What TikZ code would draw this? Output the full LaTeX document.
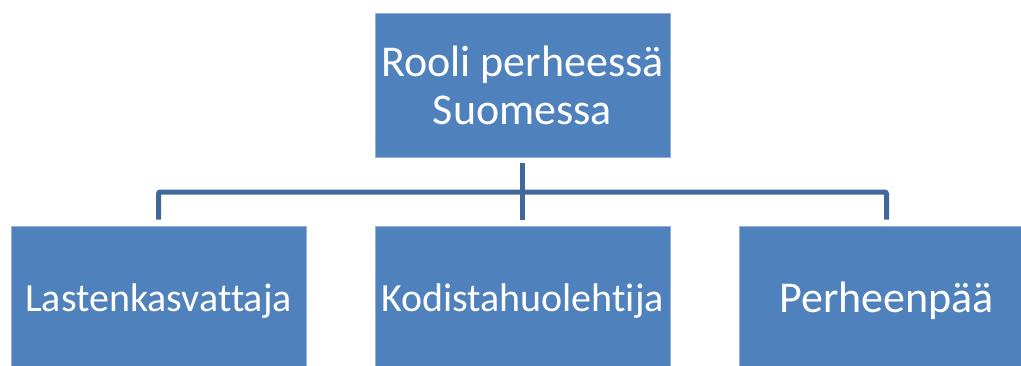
\documentclass[tikz,border=0pt]{standalone}
\usepackage{fontspec}
\setmainfont{Carlito}[Ligatures={NoCommon,NoContextual},Contextuals=NoAlternate]
\usetikzlibrary{positioning}
\definecolor{boxblue}{HTML}{4F81BD}
\definecolor{lineblue}{HTML}{41689B}
\begin{document}
\begin{tikzpicture}[
        x=1pt, y=-1pt,
        box/.style = {rectangle, fill=boxblue, draw=boxblue!60!white, line width=.8pt,
                      minimum width=295pt, minimum height=#1, text=white, align=center, inner sep=0pt},
        conn/.style = {draw=lineblue, line width=5pt, rounded corners=2pt},
        ]
        \clip (0,0) rectangle (1021,365);
        \fill[white] (0,0) rectangle (1021,365);

        \node[box=144pt, font=\fontsize{44}{48}\selectfont] (top) at (522.5,85) {Rooli perheessä\\Suomessa};
        \node[box=150pt, font=\fontsize{40}{44}\selectfont] (left) at (158.5,301) {Lastenkasvattaja};
        \node[box=150pt, font=\fontsize{40}{44}\selectfont] (mid) at (522.5,301) {Kodistahuolehtija};
        \node[box=150pt, font=\fontsize{44}{48}\selectfont] (right) at (886.5,301) {Perheenpää};
        \coordinate (bus) at (522.5,192);

        \draw[conn] ([yshift=-6pt]top.south) -- ([yshift=6pt]mid.north);
        \draw[conn] ([yshift=6pt]left.north) |- (bus) -| ([yshift=6pt]right.north);
    \end{tikzpicture}
\end{document}
